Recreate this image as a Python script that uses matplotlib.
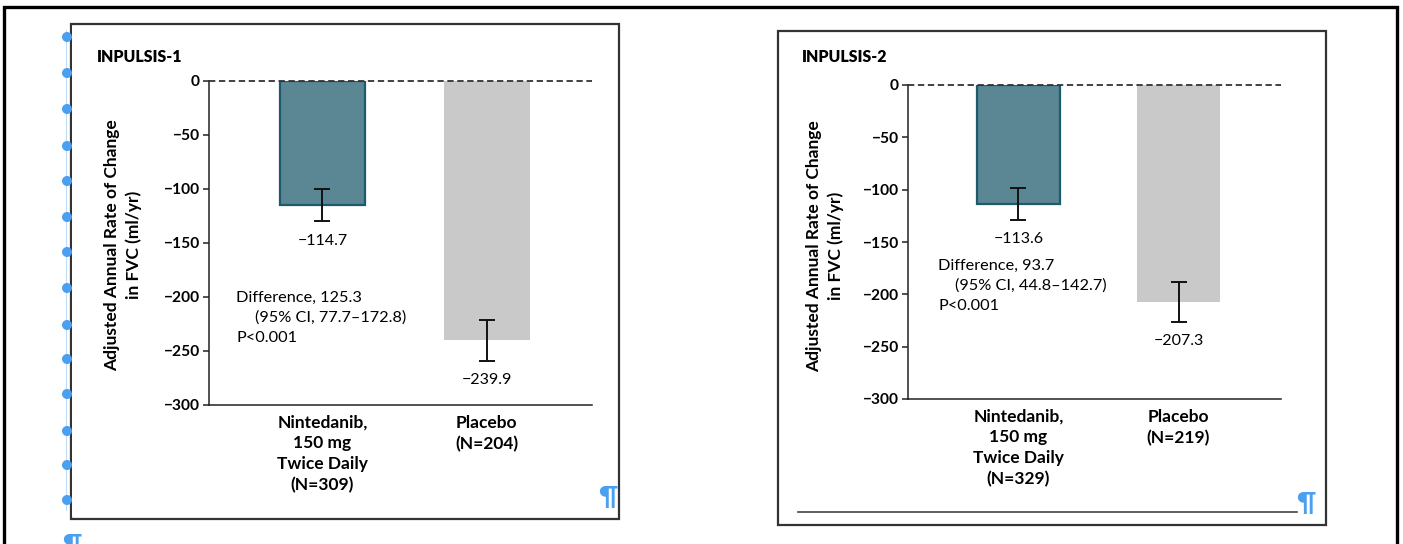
import matplotlib.pyplot as plt
from matplotlib.patches import Rectangle, Circle

plt.rcParams['font.family'] = ['Lato', 'DejaVu Sans']

W, H = 1403, 544

# trial results (adjusted annual rate of decline in FVC, ml/yr)
trial_names = ['INPULSIS-1', 'INPULSIS-2']
nintedanib_rate = [-114.7, -113.6]
placebo_rate = [-239.9, -207.3]
nintedanib_err = [15.0, 15.0]
placebo_err = [19.0, 19.0]
nintedanib_n = [309, 329]
placebo_n = [204, 219]
difference = [125.3, 93.7]
ci_low = [77.7, 44.8]
ci_high = [172.8, 142.7]
y_ticks = [0, -50, -100, -150, -200, -250, -300]
y_label = 'Adjusted Annual Rate of Change\nin FVC (ml/yr)'

TEAL = '#5b8693'
TEAL_EDGE = '#1d5a6b'
GREY = '#c9c9c9'
BLUE = '#4a9ff0'


def fx(x):
    return x / W


def fy(y):
    return 1 - y / H


fig = plt.figure(figsize=(W / 100, H / 100), dpi=100)

# page decorations drawn in pixel space
deco = fig.add_axes([0, 0, 1, 1], zorder=0)
deco.set_xlim(0, W)
deco.set_ylim(H, 0)
deco.axis('off')

deco.plot([4, 4, 1397, 1397], [H, 7, 7, H], color='black', lw=2.4,
          solid_joinstyle='miter')
deco.add_patch(Rectangle((71, 24), 548, 495, fill=False, ec='#333333', lw=1.6))
deco.add_patch(Rectangle((778, 31), 548, 494, fill=False, ec='#333333', lw=1.6))
deco.plot([798, 1297], [512, 512], color='#444444', lw=1.2)

mark_y = [37, 73, 109, 146, 181, 217, 252, 288, 325, 359, 394, 431, 465, 500]
deco.plot([66, 66], [30, 510], color=BLUE, lw=0.8, alpha=0.35)
for y in mark_y:
    deco.add_patch(Circle((67, y), 5, color=BLUE, lw=0, zorder=1))
deco.add_patch(Rectangle((71.5, 26), 5, 490, color='white', lw=0, zorder=1.5))

deco.text(608, 497, '¶', color=BLUE, fontsize=19, fontweight='bold',
          ha='center', va='center')
deco.text(1306, 503, '¶', color=BLUE, fontsize=19, fontweight='bold',
          ha='center', va='center')
deco.text(72, 545, '¶', color=BLUE, fontsize=19, fontweight='bold',
          ha='center', va='center')

panels = [
    dict(axes=(209, 81, 592, 405), title=(97, 57), ylab=(123, 245),
         note=(236, 298, 255)),
    dict(axes=(908, 85, 1281, 399), title=(802, 57), ylab=(825, 246),
         note=(938, 266, 955)),
]

for i, p in enumerate(panels):
    x0, y0, x1, y1 = p['axes']
    ax = fig.add_axes([fx(x0), fy(y1), fx(x1 - x0), (y1 - y0) / H], zorder=1)
    ax.set_facecolor('none')

    ax.bar(0, nintedanib_rate[i], width=0.52, color=TEAL, edgecolor=TEAL_EDGE,
           linewidth=1.6, zorder=2)
    ax.bar(1, placebo_rate[i], width=0.52, color=GREY, edgecolor='none',
           zorder=2)
    ax.errorbar([0, 1], [nintedanib_rate[i], placebo_rate[i]],
                yerr=[nintedanib_err[i], placebo_err[i]], fmt='none',
                ecolor='#111111', elinewidth=1.4, capsize=5.5, capthick=1.4,
                zorder=3)
    ax.axhline(0, color='#333333', lw=1.3, ls=(0, (3.5, 2)), zorder=4,
               clip_on=False)

    for x, v, e in [(0, nintedanib_rate[i], nintedanib_err[i]),
                    (1, placebo_rate[i], placebo_err[i])]:
        ax.annotate(f'{v:.1f}'.replace('-', '\u2212'), (x, v - e),
                    xytext=(0, -9), textcoords='offset points',
                    ha='center', va='top', fontsize=11.5)

    ax.set_xlim(-0.69, 1.64)
    ax.set_ylim(-300, 0)
    ax.set_yticks(y_ticks)
    ax.set_xticks([0, 1])
    ax.set_xticklabels([f'Nintedanib,\n150 mg\nTwice Daily\n(N={nintedanib_n[i]})',
                        f'Placebo\n(N={placebo_n[i]})'],
                       fontweight='bold', fontsize=12.5, linespacing=1.36,
                       va='top')
    ax.tick_params(axis='x', length=0, pad=7)
    ax.tick_params(axis='y', length=4.5, width=1.1, pad=2, labelsize=11.2,
                   color='#222222')
    for lbl in ax.get_yticklabels():
        lbl.set_fontweight('bold')
    for side in ['top', 'right']:
        ax.spines[side].set_visible(False)
    for side in ['left', 'bottom']:
        ax.spines[side].set_linewidth(1.1)
        ax.spines[side].set_color('#222222')

    tx, ty = p['title']
    fig.text(fx(tx), fy(ty), trial_names[i], fontsize=11.4, fontweight='heavy',
             ha='left', va='center')
    lx, ly = p['ylab']
    fig.text(fx(lx), fy(ly), y_label, rotation=90, ha='center', va='center',
             fontsize=12.5, fontweight='bold', linespacing=1.4)

    nx, ny, nx2 = p['note']
    fig.text(fx(nx), fy(ny), f'Difference, {difference[i]}', fontsize=11.7,
             ha='left', va='center')
    fig.text(fx(nx2), fy(ny + 20),
             f'(95% CI, {ci_low[i]}\u2013{ci_high[i]})', fontsize=11.7,
             ha='left', va='center')
    fig.text(fx(nx), fy(ny + 40), 'P<0.001', fontsize=11.7,
             ha='left', va='center')

fig.savefig('out.png', dpi=100)
